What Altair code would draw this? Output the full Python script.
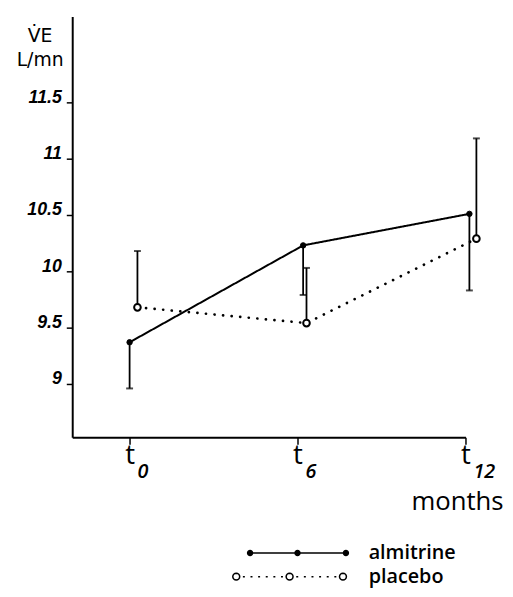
import math
import altair as alt
import pandas as pd

# ---- data ----
SERIES = ["almitrine", "placebo"]
MONTH_TICKS = [0, 6, 12]
SUBSCRIPTS = ["0", "6", "12"]
Y_TICKS = [9, 9.5, 10, 10.5, 11, 11.5]

ALM_X = [0.0, 6.2, 12.14]
ALM_Y = [9.37, 10.23, 10.51]
ALM_BAR = [8.96, 9.79, 9.83]

PLA_X = [0.28, 6.32, 12.39]
PLA_Y = [9.68, 9.54, 10.29]
PLA_BAR = [10.18, 10.03, 11.18]

X_DOMAIN = [-2.05, 12]
Y_DOMAIN = [8.526, 12.263]

df = pd.DataFrame({
    "series": [SERIES[0]] * 3 + [SERIES[1]] * 3,
    "x": ALM_X + PLA_X,
    "y": ALM_Y + PLA_Y,
    "bar": ALM_BAR + PLA_BAR,
})
subs = pd.DataFrame({"x": MONTH_TICKS, "sub": SUBSCRIPTS})


# ---- legend symbols (custom paths in unit space, 1 unit = 5 px) ----
def f(v):
    return f"{round(v, 3):g}"


def ring(cx, r, n=16):
    pts = [(cx + r * math.cos(2 * math.pi * k / n), r * math.sin(2 * math.pi * k / n)) for k in range(n)]
    return "M" + "L".join(f"{f(px)},{f(py)}" for px, py in pts) + "Z"


alm_dots = [-8.6, 1.0, 10.8]
alm_path = f"M{f(alm_dots[0])},0L{f(alm_dots[-1])},0" + "".join(ring(c, 0.5) for c in alm_dots)

pla_rings = [-11.4, -0.6, 10.2]
pla_path = "".join(ring(c, 0.7) for c in pla_rings)
for a, b in zip(pla_rings[:-1], pla_rings[1:]):
    n = 6
    step = (b - a) / (n + 1)
    for k in range(1, n + 1):
        c = a + k * step
        pla_path += f"M{f(c - 0.2)},0L{f(c + 0.2)},0"

legend = alt.Legend(
    title=None, orient="none", legendX=213, legendY=533,
    symbolSize=100, symbolStrokeWidth=1.5, symbolStrokeColor="black",
    symbolOpacity=1,
    labelFont="Open Sans", labelFontSize=20, labelFontWeight=600,
    labelColor="black", labelOffset=67, rowPadding=4, padding=0,
)

x_enc = alt.X(
    "x:Q",
    scale=alt.Scale(domain=X_DOMAIN, nice=False, zero=False),
    axis=alt.Axis(
        values=MONTH_TICKS, labelExpr="'t'", labelFont="Open Sans",
        labelFontSize=28, labelFontWeight="normal", labelBaseline="alphabetic",
        labelPadding=20, labelFlush=False, labelOverlap=False, labelBound=False,
        tickSize=7, tickWidth=1.5, domainWidth=2, grid=False,
        title="months", titleFont="Open Sans", titleFontSize=26,
        titleFontWeight=500, titleAlign="right", titleX=436, titleY=73,
        titleBaseline="alphabetic",
    ),
)
y_enc = alt.Y(
    "y:Q",
    scale=alt.Scale(domain=Y_DOMAIN, nice=False, zero=False),
    axis=alt.Axis(
        values=Y_TICKS, format=".1~f", labelFont="Liberation Sans", labelFontStyle="italic",
        labelFontWeight="bold", labelFontSize=18, labelBaseline="alphabetic",
        labelPadding=5, labelFlush=False, labelOverlap=False,
        tickSize=6, tickWidth=1.5, domainWidth=2, grid=False,
        title=["V\u0307E", "L/mn"], titleAngle=0, titleAlign="center",
        titleBaseline="alphabetic", titleX=-33, titleY=25,
        titleFont="DejaVu Sans", titleFontSize=19, titleFontWeight="normal",
        titleLineHeight=25,
    ),
)

base = alt.Chart(df)
is_alm = "datum.series == 'almitrine'"

rules = base.mark_rule(color="black", strokeWidth=1.8).encode(
    x=x_enc, y=y_enc, y2="bar:Q"
)
caps = base.mark_tick(orient="horizontal", size=7, thickness=2, color="black").encode(
    x="x:Q", y="bar:Q"
)
lines = base.mark_line(color="black", strokeCap="round").encode(
    x="x:Q", y="y:Q", detail="series:N",
    strokeDash=alt.condition(is_alm, alt.value([1, 0]), alt.value([0.1, 8.6])),
    strokeWidth=alt.condition(is_alm, alt.value(2), alt.value(2.7)),
)
points = base.mark_point(filled=True, stroke="black", opacity=1).encode(
    x="x:Q", y="y:Q",
    fill=alt.condition(is_alm, alt.value("black"), alt.value("white")),
    size=alt.condition(is_alm, alt.value(30), alt.value(45)),
    strokeWidth=alt.condition(is_alm, alt.value(1), alt.value(2)),
)
legend_layer = base.mark_point(
    filled=True, strokeWidth=1.5, opacity=0
).encode(
    x="x:Q", y="y:Q",
    shape=alt.Shape("series:N", scale=alt.Scale(domain=SERIES, range=[alm_path, pla_path]), legend=legend),
    fill=alt.Fill("series:N", scale=alt.Scale(domain=SERIES, range=["black", "white"]), legend=legend),
    stroke=alt.Stroke("series:N", scale=alt.Scale(domain=SERIES, range=["black", "black"]), legend=legend),
)
sub_text = alt.Chart(subs).mark_text(
    align="left", baseline="alphabetic", dx=8, dy=41,
    font="Open Sans", fontStyle="italic", fontWeight=600, fontSize=20, color="black",
).encode(x="x:Q", y=alt.datum(Y_DOMAIN[0]), text="sub:N")

chart = alt.layer(legend_layer, rules, caps, lines, points, sub_text).properties(
    width=398, height=426,
    autosize=alt.AutoSizeParams(type="none"),
    padding={"left": 65, "top": 5, "right": 40, "bottom": 150},
    background="white",
).configure_view(stroke=None).configure_axis(
    domainColor="black", tickColor="black", labelColor="black", titleColor="black"
)

chart.save("out.html", embed_options={"renderer": "svg", "actions": False})
